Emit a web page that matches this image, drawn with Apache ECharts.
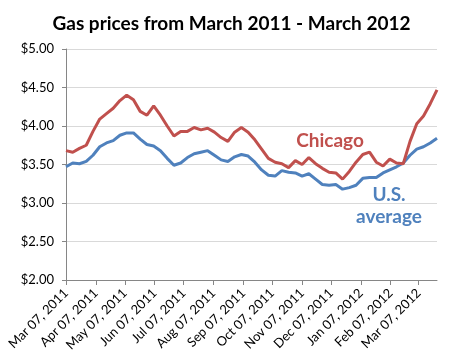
<!DOCTYPE html>
<html>
<head>
<meta charset="utf-8">
<script src="https://cdn.jsdelivr.net/npm/echarts@6/dist/echarts.min.js"></script>
<style>html,body{margin:0;padding:0;background:#fff}#c{width:463px;height:362px}</style>
</head>
<body>
<div id="c"></div>
<script>
// Weekly observations starting Mon Mar 07, 2011
var startDate = [2011, 2, 7];
var chicago = [3.68,3.66,3.71,3.75,3.93,4.09,4.16,4.23,4.33,4.40,4.34,4.19,4.14,4.26,4.14,4.00,3.87,3.93,3.93,3.98,3.95,3.97,3.92,3.85,3.80,3.92,3.98,3.92,3.82,3.70,3.58,3.53,3.51,3.46,3.55,3.50,3.59,3.51,3.45,3.40,3.39,3.31,3.41,3.53,3.63,3.66,3.53,3.48,3.57,3.52,3.51,3.80,4.03,4.13,4.29,4.47];
var usAverage = [3.47,3.52,3.51,3.54,3.62,3.73,3.78,3.81,3.88,3.91,3.91,3.83,3.76,3.74,3.68,3.58,3.49,3.52,3.59,3.64,3.66,3.68,3.62,3.56,3.54,3.60,3.63,3.61,3.53,3.43,3.36,3.35,3.42,3.40,3.39,3.35,3.38,3.31,3.24,3.23,3.24,3.18,3.20,3.23,3.32,3.33,3.33,3.39,3.43,3.47,3.52,3.62,3.70,3.73,3.78,3.84];
var tickMonths = [[2011,2],[2011,3],[2011,4],[2011,5],[2011,6],[2011,7],[2011,8],[2011,9],[2011,10],[2011,11],[2012,0],[2012,1],[2012,2]];
var tickLabels = ['Mar 07, 2011','Apr 07, 2011','May 07, 2011','Jun 07, 2011','Jul 07, 2011','Aug 07, 2011','Sep 07, 2011','Oct 07, 2011','Nov 07, 2011','Dec 07, 2011','Jan 07, 2012','Feb 07, 2012','Mar 07, 2012'];
var yTicks = [2.0, 2.5, 3.0, 3.5, 4.0, 4.5, 5.0];
var titleText = 'Gas prices from March 2011 - March 2012';

// x axis measured in days since the first observation
var DAY = 86400000;
var t0 = Date.UTC(startDate[0], startDate[1], startDate[2]);
var days = chicago.map(function(_, i){ return i * 7; });
var tickDays = tickMonths.map(function(m){ return Math.round((Date.UTC(m[0], m[1], 7) - t0) / DAY); });
var font = 'Lato, "DejaVu Sans", sans-serif';

var chart = echarts.init(document.getElementById('c'), null, {renderer:'canvas'});
chart.setOption({
  animation: false,
  backgroundColor: '#fff',
  title: {
    text: titleText, left: 'center', top: 9,
    textStyle: {fontFamily: font, fontWeight: 'bold', fontSize: 19, color: '#000'}
  },
  grid: {left: 66, right: 26, top: 49, bottom: 82, containLabel: false},
  xAxis: {
    type: 'value',
    min: days[0], max: days[days.length - 1],
    splitLine: {show: false},
    axisLine: {lineStyle: {color: '#868686', width: 1}},
    axisTick: {show: true, customValues: tickDays, length: 5, lineStyle: {color: '#868686'}},
    axisLabel: {
      customValues: tickDays, rotate: 45, margin: 11,
      fontFamily: font, fontSize: 13, color: '#000',
      formatter: function(v){
        var k = tickDays.indexOf(v);
        return k >= 0 ? tickLabels[k] : '';
      }
    }
  },
  yAxis: {
    type: 'value', min: yTicks[0], max: yTicks[yTicks.length - 1], interval: 0.5,
    axisLine: {show: true, lineStyle: {color: '#868686', width: 1}},
    axisTick: {show: true, length: 4, lineStyle: {color: '#868686'}},
    splitLine: {lineStyle: {color: '#D9D9D9', width: 1}},
    axisLabel: {
      margin: 12, fontFamily: font, fontSize: 13, color: '#000',
      formatter: function(v){ return '$' + v.toFixed(2); }
    }
  },
  series: [
    {name: 'Chicago', type: 'line', showSymbol: false, symbol: 'none',
     data: days.map(function(d, i){ return [d, chicago[i]]; }),
     lineStyle: {color: '#C0504D', width: 3}, z: 3},
    {name: 'U.S. average', type: 'line', showSymbol: false, symbol: 'none',
     data: days.map(function(d, i){ return [d, usAverage[i]]; }),
     lineStyle: {color: '#4F81BD', width: 3}, z: 2}
  ],
  graphic: [
    {type: 'text', x: 330, y: 141,
     style: {text: 'Chicago', fill: '#C0504D', font: 'bold 19px ' + font, align: 'center', verticalAlign: 'middle'}},
    {type: 'text', x: 389, y: 195,
     style: {text: 'U.S.', fill: '#4F81BD', font: 'bold 19px ' + font, align: 'center', verticalAlign: 'middle'}},
    {type: 'text', x: 389, y: 217,
     style: {text: 'average', fill: '#4F81BD', font: 'bold 19px ' + font, align: 'center', verticalAlign: 'middle'}}
  ]
});
</script>
</body>
</html>
